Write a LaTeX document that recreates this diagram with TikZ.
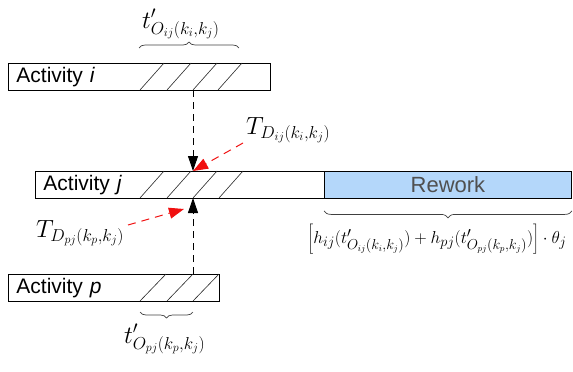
\documentclass[tikz,border=0pt]{standalone}
\usepackage{fontspec}
\setmainfont{Liberation Serif}
\newfontfamily\arialfont{Liberation Sans}
\usetikzlibrary{arrows.meta, positioning, decorations.pathreplacing}
\definecolor{rwblue}{RGB}{180,215,250}
\definecolor{rwgray}{HTML}{505050}
\definecolor{arred}{HTML}{F01010}

\begin{document}
\begin{tikzpicture}[
  x=1pt, y=-1pt,
  actbox/.style={rectangle, draw=black, line width=0.9pt, anchor=north west, minimum height=27pt, inner xsep=8pt, inner ysep=0pt, text width=#1, align=left, font=\arialfont\fontsize{21}{23}\selectfont},
  hatch/.style={line width=0.6pt, black!85},
  linkarr/.style={-{Triangle[length=15pt,width=10pt]}, line width=0.9pt, dash pattern=on 7pt off 5pt},
  redarr/.style={-{Triangle[length=15pt,width=11pt]}, line width=1pt, arred, dash pattern=on 8pt off 6pt},
  brc/.style={decorate, decoration={brace, amplitude=#1}, line width=0.7pt, black!75},
  lbl/.style={inner sep=0pt, font=\fontsize{#1}{#1}\selectfont},
]
  \useasboundingbox (0,0) rectangle (573,372);

  % Activity i
  \node[actbox=246pt] (acti) at (8,63) {Activity \textit{i}};
  \foreach \x in {140,167,193,218}
    \draw[hatch] (\x,90) -- (\x+24,63);

  % Activity j and rework
  \node[actbox=273pt] (actj) at (35,171) {Activity \textit{j}};
  \node[rectangle, draw=black, line width=0.9pt, fill=rwblue, anchor=north west, minimum width=247pt, minimum height=27pt, inner sep=0pt, font=\arialfont\fontsize{22}{24}\selectfont, text=rwgray] (rework) at (324,171) {Rework};
  \foreach \x in {140,167,193,219}
    \draw[hatch] (\x,198) -- (\x+24,171);

  % Activity p
  \node[actbox=195pt] (actp) at (8,274) {Activity \textit{p}};
  \foreach \x in {140,167,193}
    \draw[hatch] (\x,301) -- (\x+26,274);

  % link points
  \coordinate (ioff) at (193,90);
  \coordinate (jtop) at (193,171);
  \coordinate (jbot) at (193,198);
  \coordinate (pon) at (193,274);

  % overlap labels
  \node[lbl=26, anchor=base west] (tij) at (142,28) {$t'_{O_{ij}(k_i,k_j)}$};
  \node[lbl=26, anchor=base west] (tpj) at (124,343) {$t'_{O_{pj}(k_p,k_j)}$};
  \node[lbl=24, anchor=base west] (Dij) at (246,134) {$T_{D_{ij}(k_i,k_j)}$};
  \node[lbl=24, anchor=base west] (Dpj) at (36,237) {$T_{D_{pj}(k_p,k_j)}$};
  \node[lbl=19] (form) at (437,239)
    {$\left[h_{ij}(t'_{O_{ij}(k_i,k_j)})+h_{pj}(t'_{O_{pj}(k_p,k_j)})\right]\cdot\theta_j$};

  % braces
  \draw[brc=6pt] (139,48) -- (239,48);
  \draw[brc=6pt] (193,312) -- (140,312);
  \draw[brc=7pt] ([yshift=-12pt]rework.south east) -- ([yshift=-12pt]rework.south west);

  % Arrows
  \draw[linkarr] (ioff) -- (jtop);
  \draw[linkarr] (pon) -- (jbot);
  \draw[redarr] (243,143) -- (jtop);
  \draw[redarr] (128,225) -- (184,209);
\end{tikzpicture}
\end{document}
